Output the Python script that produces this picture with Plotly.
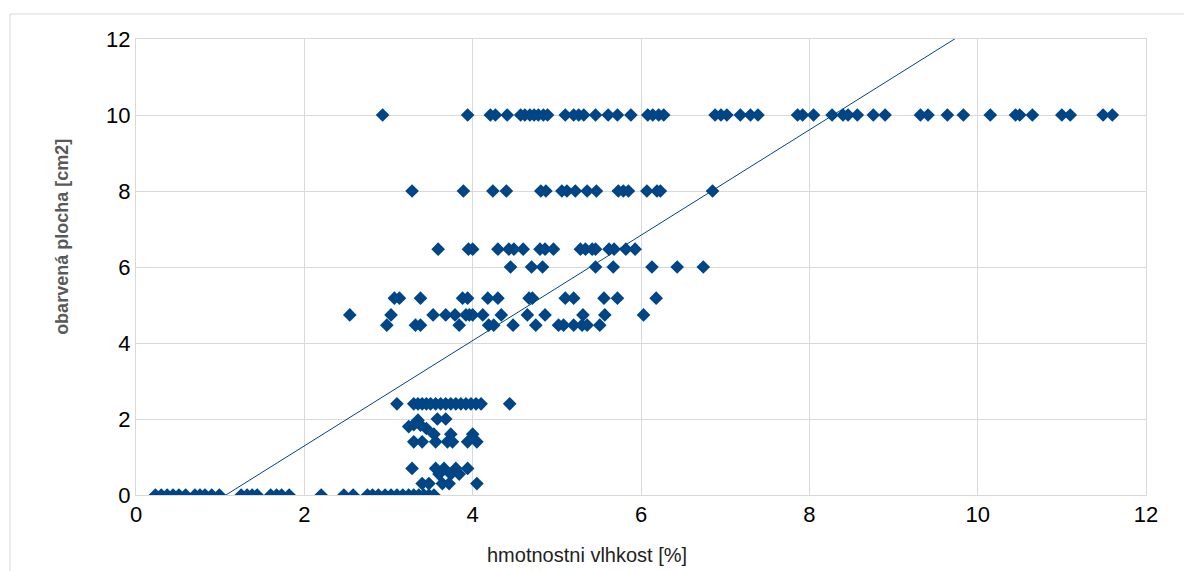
import plotly.graph_objects as go

# ---- data ----
x_at_10 = [2.93, 3.94, 4.21, 4.27, 4.41, 4.57, 4.62, 4.68, 4.73, 4.78, 4.84, 4.89, 5.10, 5.20, 5.26,
           5.32, 5.46, 5.61, 5.72, 5.88, 6.08, 6.14, 6.21, 6.27, 6.88, 6.95, 7.02, 7.18, 7.30, 7.39,
           7.86, 7.92, 8.05, 8.27, 8.40, 8.46, 8.57, 8.76, 8.90, 9.32, 9.41, 9.64, 9.83, 10.15,
           10.45, 10.50, 10.65, 11.00, 11.10, 11.49, 11.60]
x_at_8 = [3.28, 3.89, 4.24, 4.40, 4.81, 4.87, 5.06, 5.12, 5.22, 5.36, 5.47, 5.73, 5.79, 5.85,
          6.07, 6.19, 6.23, 6.85]
x_at_6_5 = [3.59, 3.95, 4.00, 4.30, 4.43, 4.49, 4.60, 4.80, 4.86, 4.96, 5.28, 5.34, 5.42, 5.46,
            5.62, 5.68, 5.82, 5.93]
x_at_6 = [4.45, 4.70, 4.83, 5.46, 5.67, 6.13, 6.43, 6.74]
x_at_5_2 = [3.07, 3.13, 3.38, 3.88, 3.94, 4.18, 4.30, 4.67, 4.71, 5.10, 5.20, 5.56, 5.72, 6.18]
x_at_4_75 = [2.54, 3.03, 3.53, 3.68, 3.79, 3.92, 3.96, 4.00, 4.12, 4.34, 4.65, 4.86, 5.31, 5.57, 6.03]
x_at_4_5 = [2.98, 3.32, 3.38, 3.84, 4.19, 4.25, 4.48, 4.75, 5.02, 5.08, 5.20, 5.30, 5.36, 5.51]
x_at_2_4 = [3.10, 3.30, 3.35, 3.40, 3.45, 3.50, 3.56, 3.62, 3.68, 3.74, 3.80, 3.86, 3.92, 3.98,
            4.04, 4.10, 4.44]
x_at_0 = [0.23, 0.30, 0.37, 0.44, 0.51, 0.59, 0.70, 0.76, 0.82, 0.90, 0.99, 1.25, 1.32, 1.38,
          1.44, 1.60, 1.67, 1.73, 1.82, 2.20, 2.47, 2.58, 2.75, 2.81, 2.88, 2.96, 3.03, 3.10,
          3.17, 3.24, 3.30, 3.36, 3.42, 3.48, 3.54]
cluster_x = [3.24, 3.30, 3.35, 3.38, 3.45, 3.58, 3.68,
             3.54, 3.74, 4.00,
             3.30, 3.40, 3.56, 3.70, 3.76, 3.94, 4.05,
             3.28, 3.56, 3.66, 3.80, 3.94,
             3.60, 3.74, 3.84,
             3.40, 3.48, 3.64, 3.72, 4.05]
cluster_y = [1.80, 1.85, 1.97, 1.84, 1.75, 2.00, 2.00,
             1.60, 1.60, 1.60,
             1.40, 1.40, 1.40, 1.40, 1.40, 1.40, 1.40,
             0.70, 0.70, 0.70, 0.70, 0.70,
             0.55, 0.55, 0.55,
             0.30, 0.30, 0.30, 0.30, 0.30]

levels = [(10, x_at_10), (8, x_at_8), (6.47, x_at_6_5), (6.0, x_at_6), (5.18, x_at_5_2),
          (4.74, x_at_4_75), (4.47, x_at_4_5), (2.4, x_at_2_4), (0, x_at_0)]

trend_slope = 1.386
trend_intercept = -1.48
axis_ticks = [0, 2, 4, 6, 8, 10, 12]
x_title = "hmotnostni vlhkost [%]"
y_title = "obarvená plocha [cm2]"

xs, ys = [], []
for lvl, arr in levels:
    xs += arr
    ys += [lvl] * len(arr)
xs += cluster_x
ys += cluster_y

COLOR = "#004586"
FONT = "Liberation Sans, Arial, sans-serif"

fig = go.Figure()
fig.add_trace(go.Scatter(x=xs, y=ys, mode="markers",
                         marker=dict(symbol="diamond", size=10.5, color=COLOR, line=dict(width=0)),
                         showlegend=False, hoverinfo="x+y"))
tx = [0, 12]
fig.add_trace(go.Scatter(x=tx, y=[trend_slope * v + trend_intercept for v in tx], mode="lines",
                         line=dict(color=COLOR, width=1), showlegend=False, hoverinfo="skip"))

axis_common = dict(range=[0, 12], tickvals=axis_ticks, showgrid=True, gridcolor="#d9d9d9",
                   gridwidth=1, showline=True, linecolor="#d9d9d9", linewidth=1, mirror=True,
                   zeroline=False, ticks="", tickfont=dict(family=FONT, size=22, color="#000000"))

fig.update_xaxes(**axis_common)
fig.update_yaxes(**axis_common)

fig.update_layout(
    width=1184, height=571,
    margin=dict(l=136, r=38, t=39, b=76),
    paper_bgcolor="#ffffff", plot_bgcolor="#ffffff",
    font=dict(family=FONT),
    shapes=[dict(type="rect", xref="paper", yref="paper", x0=-0.1248, x1=1.2, y0=-0.4, y1=1.0548,
                 line=dict(color="#d9d9d9", width=1), fillcolor="rgba(0,0,0,0)", layer="below")],
    annotations=[
        dict(text=x_title, xref="paper", yref="paper", x=0.4465, y=-0.1316,
             xanchor="center", yanchor="middle", showarrow=False,
             font=dict(family=FONT, size=20, color="#222222")),
        dict(text="<b>" + y_title + "</b>", xref="paper", yref="paper", x=-0.0733, y=0.566,
             xanchor="center", yanchor="middle", showarrow=False, textangle=-90,
             font=dict(family=FONT, size=18, color="#595959")),
    ],
)

fig.write_html("out.html", config={"displayModeBar": False},
               post_script="document.body.style.margin='0';document.body.style.overflow='hidden';")
